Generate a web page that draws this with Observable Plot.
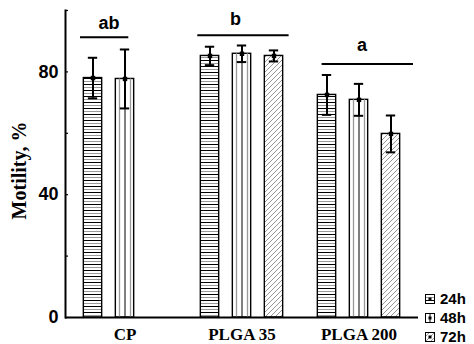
<!DOCTYPE html>
<html>
<head>
<meta charset="utf-8">
<script src="https://cdn.jsdelivr.net/npm/d3@7"></script>
<script src="https://cdn.jsdelivr.net/npm/@observablehq/plot@0.6"></script>
<style>
  html, body { margin: 0; padding: 0; background: white; }
  #wrap { position: relative; width: 474px; height: 344px; }
  #legend { position: absolute; left: 425px; top: 293px; font-family: "Liberation Sans", Arial, sans-serif; font-weight: bold; font-size: 15px; }
  .lrow { position: absolute; left: 0; height: 12px; white-space: nowrap; }
  .lrow svg { position: absolute; left: 0; top: 1px; }
  .lrow span { position: absolute; left: 15px; top: -2px; line-height: 15px; }
</style>
</head>
<body>
<svg width="0" height="0" style="position:absolute">
  <defs>
    <pattern id="p24" patternUnits="userSpaceOnUse" width="8" height="6">
      <rect width="8" height="6" fill="white"/>
      <line x1="0" x2="8" y1="0.5" y2="0.5" stroke="#000" stroke-width="1"/>
      <line x1="0" x2="8" y1="3.5" y2="3.5" stroke="#9a9a9a" stroke-width="1"/>
    </pattern>
    <pattern id="p72" patternUnits="userSpaceOnUse" width="5" height="5">
      <rect width="5" height="5" fill="white"/>
      <path d="M-1,1 L1,-1 M0,5 L5,0 M4,6 L6,4" stroke="#8a8a8a" stroke-width="0.9"/>
    </pattern>
  </defs>
</svg>
<div id="wrap"></div>
<script>
// ---- data ----
const groups = ["CP", "PLGA 35", "PLGA 200"];
const times = ["24h", "48h", "72h"];
const mean24 = [78.0, 85.2, 72.5];
const sd24   = [6.6, 3.0, 6.5];
const mean48 = [77.7, 85.9, 70.9];
const sd48   = [9.6, 2.7, 5.2];
const mean72 = [null, 85.2, 59.8];
const sd72   = [null, 1.8, 6.0];
const sigLetters = ["ab", "b", "a"];
const sigLineY = [91.3, 91.9, 82.6];
const sigTextY = [96.0, 97.0, 88.6];
const yTickLabels = [0, 40, 80];
const yTicksAll = [0, 20, 40, 60, 80, 100];

const means = [mean24, mean48, mean72];
const sds = [sd24, sd48, sd72];
const rows = [];
groups.forEach((g, gi) => {
  times.forEach((t, ti) => {
    const m = means[ti][gi];
    if (m != null) rows.push({group: g, time: t, ti, mean: m, lo: m - sds[ti][gi], hi: m + sds[ti][gi]});
  });
});

// ---- layout/style ----
const step = 32;           // within-group spacing (px)
const barW = 19;
const W = 474, H = 344;
const mL = 65, mR = 56, mT = 10, mB = 27;
const bandW = (W - mL - mR) / 3;
const barInset = (bandW - barW) / 2;
const capInset = (bandW - 10) / 2;
const fills = {"24h": "url(#p24)", "48h": "white", "72h": "url(#p72)"};
const sans = "Liberation Sans, Arial, sans-serif";
const serif = "Liberation Serif, Times New Roman, serif";

const marks = [];
times.forEach((t, ti) => {
  const data = rows.filter(d => d.time === t);
  const dx = (ti - 1) * step;
  marks.push(Plot.barY(data, {x: "group", y: "mean", dx, fill: fills[t], stroke: "black", strokeWidth: 1.4, insetLeft: barInset, insetRight: barInset}));
  if (t === "48h") {
    marks.push(Plot.ruleX(data, {x: "group", y1: 0, y2: "mean", dx: dx - 5.5, stroke: "#9a9a9a", strokeWidth: 1.3}));
    marks.push(Plot.ruleX(data, {x: "group", y1: 0, y2: "mean", dx: dx + 5.5, stroke: "#9a9a9a", strokeWidth: 1.3}));
    marks.push(Plot.ruleX(data, {x: "group", y1: 0, y2: "mean", dx: dx, stroke: "black", strokeWidth: 1}));
  }
  marks.push(Plot.ruleX(data, {x: "group", y1: "lo", y2: "hi", dx, stroke: "black", strokeWidth: 2}));
  marks.push(Plot.tickY(data, {x: "group", y: "lo", dx, stroke: "black", strokeWidth: 2, insetLeft: capInset, insetRight: capInset}));
  marks.push(Plot.tickY(data, {x: "group", y: "hi", dx, stroke: "black", strokeWidth: 2, insetLeft: capInset, insetRight: capInset}));
  marks.push(Plot.dot(data, {x: "group", y: "mean", dx, symbol: "square", r: 2.5, fill: "black", stroke: null}));
});

// significance lines + letters
const sigInsets = [[14, 54.7], [14.3, 11.4], [21.6, 4]];
const sigDx = [-16, -6.5, 3];
groups.forEach((g, i) => {
  marks.push(Plot.ruleY([{group: g, y: sigLineY[i]}], {x1: "group", x2: "group", y: "y", stroke: "black", strokeWidth: 2, insetLeft: sigInsets[i][0], insetRight: sigInsets[i][1]}));
  marks.push(Plot.text([{group: g, y: sigTextY[i], s: sigLetters[i]}], {x: "group", y: "y", text: "s", dx: sigDx[i], fontSize: 18, fontWeight: "bold", fontFamily: sans, fill: "black"}));
});

const chart = Plot.plot({
  width: W, height: H,
  marginLeft: mL, marginRight: mR, marginTop: mT, marginBottom: mB,
  style: {background: "white", overflow: "visible"},
  x: {type: "band", domain: groups, padding: 0, label: null, axis: null},
  y: {domain: [0, 100], label: null, axis: null},
  marks: [
    ...marks,
    Plot.ruleY([0], {stroke: "black", strokeWidth: 2}),
    Plot.frame({anchor: "left", stroke: "black", strokeWidth: 2}),
    Plot.axisY({ticks: yTicksAll, tickSize: -3, tickFormat: () => "", label: null, strokeWidth: 1.2}),
    Plot.axisY({ticks: yTickLabels, tickSize: 0, tickPadding: 7, label: null, fontSize: 18, fontWeight: "bold", fontFamily: sans, fill: "black"}),
    Plot.axisX({tickSize: 0, tickPadding: 10, label: null, fontSize: 17, fontWeight: "bold", fontFamily: serif, fill: "black"}),
    Plot.text(["Motility, %"], {frameAnchor: "left", textAnchor: "middle", rotate: -90, dx: -46, dy: 6.5, fontSize: 20, fontWeight: "bold", fontFamily: serif, fill: "black"})
  ]
});
document.getElementById("wrap").appendChild(chart);

// legend
const legend = document.createElement("div");
legend.id = "legend";
const swatchInner = {
  "24h": '<rect x="0.5" y="0.5" width="9" height="9" fill="url(#p24)" stroke="black"/>',
  "48h": '<rect x="0.5" y="0.5" width="9" height="9" fill="white" stroke="black"/><line x1="5" x2="5" y1="0.5" y2="9.5" stroke="black"/>',
  "72h": '<rect x="0.5" y="0.5" width="9" height="9" fill="url(#p72)" stroke="black"/>'
};
times.forEach((t, i) => {
  const row = document.createElement("div");
  row.className = "lrow";
  row.style.top = (i * 19) + "px";
  row.innerHTML = '<svg width="10" height="10">' + swatchInner[t] + '<rect x="3.5" y="3.5" width="3" height="3" fill="black"/></svg><span>' + t + '</span>';
  legend.appendChild(row);
});
document.getElementById("wrap").appendChild(legend);
</script>
</body>
</html>
